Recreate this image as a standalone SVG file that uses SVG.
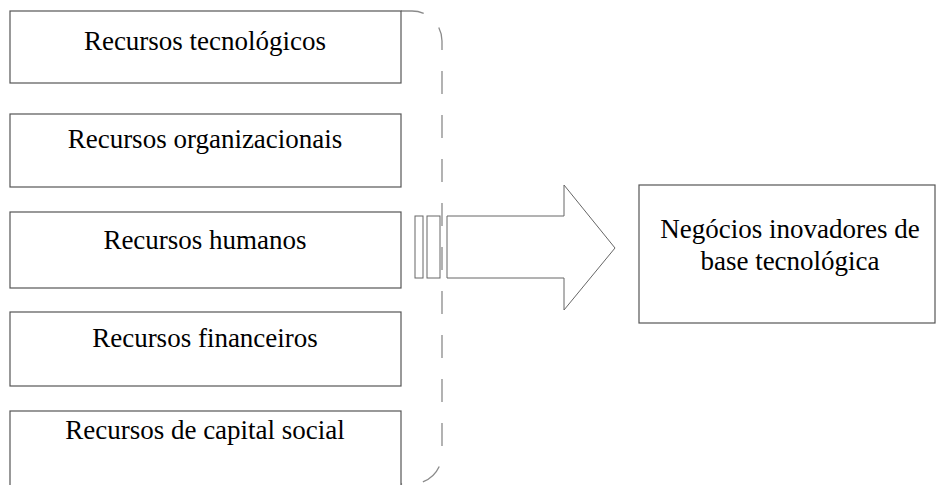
<svg xmlns="http://www.w3.org/2000/svg" width="937" height="485" viewBox="0 0 937 485">
  <style>
    .box { fill: #ffffff; stroke: #555555; stroke-width: 1.2; }
    .lbl { font-family: "Liberation Serif", "Times New Roman", serif; font-size: 27px; fill: #000000; text-anchor: middle; }
    .dash { fill: none; stroke: #8a8a8a; stroke-width: 1.3; stroke-dasharray: 23 21; }
    .arrow { fill: #ffffff; stroke: #666666; stroke-width: 1; }
  </style>
  <rect width="937" height="485" fill="#ffffff"/>

  <g id="connectors">
    <path class="dash" d="M 401 11 L 412 11 A 30 30 0 0 1 442 41 L 442 454 A 30 30 0 0 1 412 484 L 401 484"/>
    <rect class="arrow" x="415" y="216" width="8" height="62"/>
    <rect class="arrow" x="427" y="216" width="13" height="62"/>
    <polygon class="arrow" points="447,216 564,216 564,185 615,248 564,310 564,278 447,278"/>
  </g>

  <g id="node-tecnologicos">
    <rect class="box" x="10" y="11" width="391" height="72"/>
    <text class="lbl" x="205" y="50">Recursos tecnológicos</text>
  </g>
  <g id="node-organizacionais">
    <rect class="box" x="10" y="114" width="391" height="73"/>
    <text class="lbl" x="205" y="148">Recursos organizacionais</text>
  </g>
  <g id="node-humanos">
    <rect class="box" x="10" y="212" width="391" height="76"/>
    <text class="lbl" x="205" y="249">Recursos humanos</text>
  </g>
  <g id="node-financeiros">
    <rect class="box" x="10" y="312" width="391" height="74"/>
    <text class="lbl" x="205" y="347">Recursos financeiros</text>
  </g>
  <g id="node-capital-social">
    <rect class="box" x="10" y="411" width="391" height="80"/>
    <text class="lbl" x="205" y="439">Recursos de capital social</text>
  </g>
  <g id="node-negocios">
    <rect class="box" x="639" y="185" width="296" height="138"/>
    <text class="lbl" x="790" y="238">Negócios inovadores de</text>
    <text class="lbl" x="790" y="270">base tecnológica</text>
  </g>
</svg>
